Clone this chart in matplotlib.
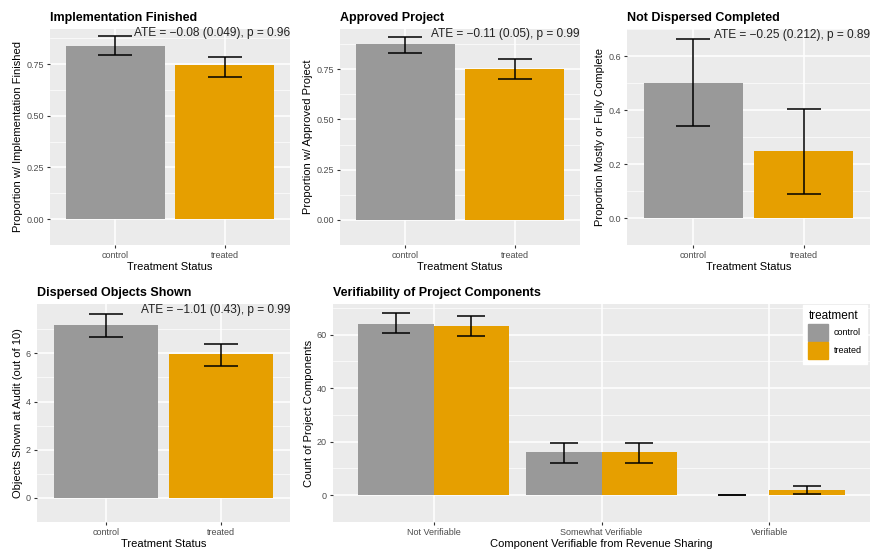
import numpy as np
import matplotlib.pyplot as plt
from matplotlib.patches import Patch

plt.rcParams['font.family'] = ['Liberation Sans', 'DejaVu Sans']

# data
groups = ['control', 'treated']

impl_mean = [0.84, 0.745]
impl_lo = [0.795, 0.69]
impl_hi = [0.885, 0.786]

appr_mean = [0.875, 0.75]
appr_lo = [0.833, 0.703]
appr_hi = [0.912, 0.80]

notd_mean = [0.50, 0.25]
notd_lo = [0.34, 0.09]
notd_hi = [0.663, 0.404]

objs_mean = [7.17, 5.97]
objs_lo = [6.66, 5.47]
objs_hi = [7.63, 6.40]

verif_cats = ['Not Verifiable', 'Somewhat Verifiable', 'Verifiable']
verif_control = [64, 16.3, 0]
verif_control_lo = [60.4, 12.2, 0]
verif_control_hi = [68, 19.6, 0]
verif_treated = [63, 16.3, 2.1]
verif_treated_lo = [59.5, 12.2, 0.5]
verif_treated_hi = [67, 19.6, 3.4]

ate_text = ['ATE = \u22120.08 (0.049), p = 0.96',
            'ATE = \u22120.11 (0.05), p = 0.99',
            'ATE = \u22120.25 (0.212), p = 0.89',
            'ATE = \u22121.01 (0.43), p = 0.99']

GRAY = '#999999'
ORANGE = '#E69F00'
W, H = 872, 551

fig = plt.figure(figsize=(W / 100, H / 100), dpi=100)


def box(l, t, r, b):
    return [l / W, 1 - b / H, (r - l) / W, (b - t) / H]


def style(ax, title, xlabel, ylabel, yticks, fmt, ylim, xlim):
    ax.set_facecolor('#EBEBEB')
    for s in ax.spines.values():
        s.set_visible(False)
    ax.set_ylim(*ylim)
    ax.set_xlim(*xlim)
    ax.set_yticks(yticks)
    ax.set_yticklabels([fmt.format(v) for v in yticks])
    step = yticks[1] - yticks[0]
    minors = [v + step / 2 for v in [yticks[0] - step] + list(yticks)]
    ax.set_yticks(minors, minor=True)
    ax.grid(True, which='major', color='white', linewidth=1.1)
    ax.grid(True, which='minor', axis='y', color='white', linewidth=0.5)
    ax.set_axisbelow(True)
    ax.tick_params(which='major', length=2.5, width=0.8, color='#333333',
                   labelsize=6.5, labelcolor='#4D4D4D', pad=2)
    ax.tick_params(which='minor', length=0)
    ax.set_title(title, loc='left', fontsize=9, fontweight='bold', pad=6)
    ax.set_xlabel(xlabel, fontsize=8, labelpad=1)
    ax.set_ylabel(ylabel, fontsize=8, labelpad=2)


def two_bar(ax, mean, lo, hi, label):
    x = np.arange(len(groups))
    ax.bar(x, mean, width=0.9, color=[GRAY, ORANGE], zorder=2)
    err = [np.array(mean) - np.array(lo), np.array(hi) - np.array(mean)]
    ax.errorbar(x, mean, yerr=err, fmt='none', ecolor='black', elinewidth=1.1,
                capsize=12, capthick=1.1, zorder=3)
    ax.set_xticks(x)
    ax.set_xticklabels(groups)
    ylim = ax.get_ylim()
    ax.text(1.6, hi[0] + (ylim[1] - hi[0]) * 0.4, label, ha='right', va='center',
            fontsize=8.6, color='#222222', zorder=4)


ax1 = fig.add_axes(box(50, 29, 290, 245))
style(ax1, 'Implementation Finished', 'Treatment Status',
      'Proportion w/ Implementation Finished', [0, 0.25, 0.5, 0.75], '{:.2f}',
      (-0.049, 0.92), (-0.6, 1.6))
two_bar(ax1, impl_mean, impl_lo, impl_hi, ate_text[0])

ax2 = fig.add_axes(box(340, 29, 580, 245))
style(ax2, 'Approved Project', 'Treatment Status',
      'Proportion w/ Approved Project', [0, 0.25, 0.5, 0.75], '{:.2f}',
      (-0.05, 0.95), (-0.6, 1.6))
two_bar(ax2, appr_mean, appr_lo, appr_hi, ate_text[1])

ax3 = fig.add_axes(box(627, 29, 870, 245))
style(ax3, 'Not Dispersed Completed', 'Treatment Status',
      'Proportion Mostly or Fully Complete', [0, 0.2, 0.4, 0.6], '{:.1f}',
      (-0.035, 0.69), (-0.6, 1.6))
two_bar(ax3, notd_mean, notd_lo, notd_hi, ate_text[2])

ax4 = fig.add_axes(box(37, 304, 290, 522))
style(ax4, 'Dispersed Objects Shown', 'Treatment Status',
      'Objects Shown at Audit (out of 10)', [0, 2, 4, 6], '{:.0f}',
      (-0.42, 8.05), (-0.6, 1.6))
two_bar(ax4, objs_mean, objs_lo, objs_hi, ate_text[3])

ax5 = fig.add_axes(box(333, 304, 870, 522))
style(ax5, 'Verifiability of Project Components',
      'Component Verifiable from Revenue Sharing', 'Count of Project Components',
      [0, 20, 40, 60], '{:.0f}', (-3.6, 71.4), (-0.6, 2.6))
xc = np.arange(len(verif_cats))
ax5.bar(xc - 0.225, verif_control, width=0.45, color=GRAY, zorder=2)
ax5.bar(xc + 0.225, verif_treated, width=0.45, color=ORANGE, zorder=2)
for off, m, lo, hi in [(-0.225, verif_control, verif_control_lo, verif_control_hi),
                       (0.225, verif_treated, verif_treated_lo, verif_treated_hi)]:
    err = [np.array(m) - np.array(lo), np.array(hi) - np.array(m)]
    ax5.errorbar(xc + off, m, yerr=err, fmt='none', ecolor='black',
                 elinewidth=1.1, capsize=10, capthick=1.1, zorder=3)
ax5.set_xticks(xc)
ax5.set_xticklabels(verif_cats)

leg = ax5.legend(handles=[Patch(color=GRAY), Patch(color=ORANGE)], labels=groups,
                 title='treatment', loc='upper left',
                 bbox_to_anchor=(803 / W, 1 - 305 / H), bbox_transform=fig.transFigure,
                 frameon=True, fancybox=False, framealpha=1, edgecolor='white',
                 fontsize=6.5, title_fontsize=8.5, handlelength=2.2, handleheight=2.5,
                 labelspacing=0.15, handletextpad=0.6, borderpad=0.6,
                 borderaxespad=0)
leg._legend_box.align = 'left'

fig.savefig('out.png', dpi=100)
